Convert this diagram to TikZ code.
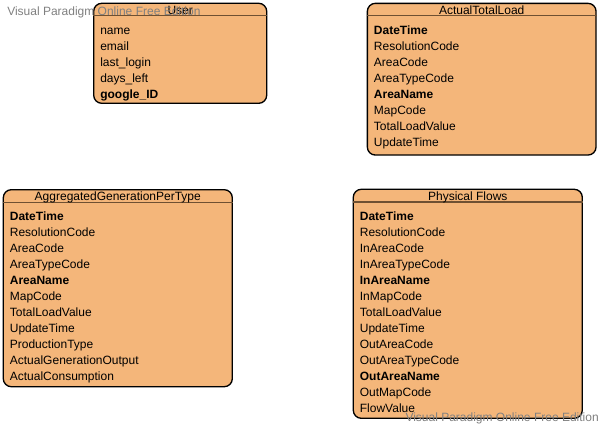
\documentclass[tikz,border=0pt]{standalone}
\usepackage{fontspec}
\setmainfont{Liberation Sans}
\usepackage{tikz}
\usetikzlibrary{positioning}
\definecolor{boxfill}{RGB}{244,182,122}
\definecolor{headcol}{RGB}{110,80,50}
\definecolor{wmgray}{RGB}{128,128,128}
\newcommand{\pxl}{0.75pt}
\newcommand{\fieldfont}{\fontsize{9}{11}\selectfont}

\begin{document}
\begin{tikzpicture}[x=0.75pt, y=-0.75pt,
  tablebox/.style={draw=black, fill=boxfill, rounded corners=6pt, line width=1pt, inner sep=0pt},
  headline/.style={draw=headcol, line width=1pt},
  titletext/.style={font=\fieldfont, inner sep=0pt},
  fieldtext/.style={anchor=base west, font=\fieldfont, inner sep=0pt},
  watermark/.style={font=\fieldfont, text=wmgray, inner sep=0pt}]
\useasboundingbox (0,0) rectangle (604,427);
% User
\node [tablebox, minimum width=173*\pxl, minimum height=100*\pxl] (user) at (180.2,53.3) {};
\draw [headline] ([yshift=-13*\pxl]user.north west) -- ([yshift=-13*\pxl]user.north east);
\node [titletext, anchor=base] (userTitle) at ([yshift=-11.5*\pxl]user.north) {User};
\foreach \f [count=\i] in {name, email, last\_login, days\_left, \textbf{google\_ID}}
  \node [fieldtext] (user\i) at ([xshift=7*\pxl, yshift=-(15.5+16*\i)*\pxl]user.north west) {\f};
% ActualTotalLoad
\node [tablebox, minimum width=228.7*\pxl, minimum height=151.7*\pxl] (load) at (481.7,79.2) {};
\draw [headline] ([yshift=-13*\pxl]load.north west) -- ([yshift=-13*\pxl]load.north east);
\node [titletext, anchor=base] (loadTitle) at ([yshift=-11.5*\pxl]load.north) {ActualTotalLoad};
\foreach \f [count=\i] in {\textbf{DateTime}, ResolutionCode, AreaCode, AreaTypeCode, \textbf{AreaName}, MapCode, TotalLoadValue, UpdateTime}
  \node [fieldtext] (load\i) at ([xshift=7*\pxl, yshift=-(15.8+16*\i)*\pxl]load.north west) {\f};
% AggregatedGenerationPerType
\node [tablebox, minimum width=229*\pxl, minimum height=197*\pxl] (gen) at (117.8,288.2) {};
\draw [headline] ([yshift=-13.5*\pxl]gen.north west) -- ([yshift=-13.5*\pxl]gen.north east);
\node [titletext, anchor=base] (genTitle) at ([yshift=-11.5*\pxl]gen.north) {AggregatedGenerationPerType};
\foreach \f [count=\i] in {\textbf{DateTime}, ResolutionCode, AreaCode, AreaTypeCode, \textbf{AreaName}, MapCode, TotalLoadValue, UpdateTime, ProductionType, ActualGenerationOutput, ActualConsumption}
  \node [fieldtext] (gen\i) at ([xshift=7*\pxl, yshift=-(15.7+16*\i)*\pxl]gen.north west) {\f};
% Physical Flows
\node [tablebox, minimum width=229*\pxl, minimum height=229*\pxl] (flow) at (467.8,303.8) {};
\draw [headline] ([yshift=-13.5*\pxl]flow.north west) -- ([yshift=-13.5*\pxl]flow.north east);
\node [titletext, anchor=base] (flowTitle) at ([yshift=-11.5*\pxl]flow.north) {Physical Flows};
\foreach \f [count=\i] in {\textbf{DateTime}, ResolutionCode, InAreaCode, InAreaTypeCode, \textbf{InAreaName}, InMapCode, TotalLoadValue, UpdateTime, OutAreaCode, OutAreaTypeCode, \textbf{OutAreaName}, OutMapCode, FlowValue}
  \node [fieldtext] (flow\i) at ([xshift=7*\pxl, yshift=-(16+16*\i)*\pxl]flow.north west) {\f};
% watermarks
\node [watermark, anchor=base west] (wmTop) at (7,16) {Visual Paradigm Online Free Edition};
\node [watermark, anchor=base east] (wmBottom) at (599,421.5) {Visual Paradigm Online Free Edition};
\end{tikzpicture}
\end{document}
